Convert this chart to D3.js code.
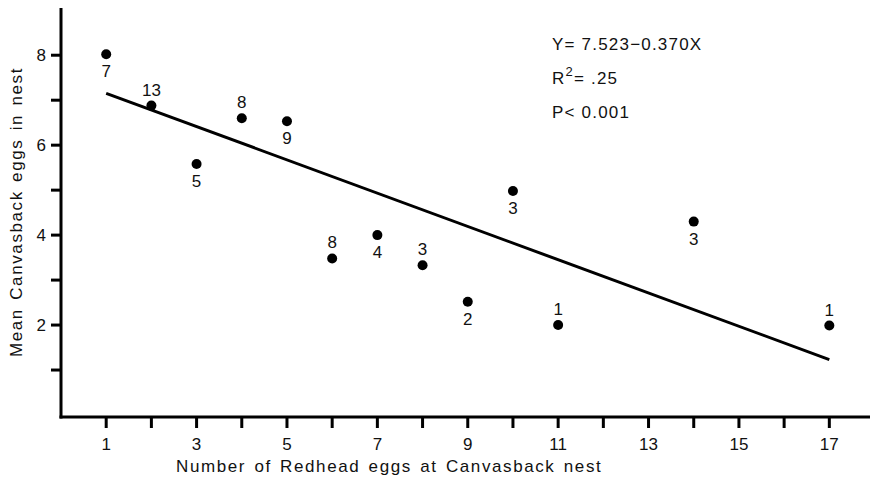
<!DOCTYPE html>
<html>
<head>
<meta charset="utf-8">
<script src="https://cdn.jsdelivr.net/npm/d3@7"></script>
<style>
  body { margin: 0; background: #fff; }
  text { font-family: "Liberation Sans", Arial, Helvetica, sans-serif; fill: #111; }
</style>
</head>
<body>
<svg id="chart"></svg>
<script>
// Data
const redheadEggs = [1, 2, 3, 4, 5, 6, 7, 8, 9, 10, 11, 14, 17];
const meanCanvasback = [8.02, 6.88, 5.58, 6.6, 6.53, 3.48, 4.0, 3.33, 2.52, 4.98, 2.0, 4.3, 1.99];
const nestCounts = [7, 13, 5, 8, 9, 8, 4, 3, 2, 3, 1, 3, 1];
const labelSide = ['below', 'above', 'below', 'above', 'below', 'above', 'below', 'above', 'below', 'below', 'above', 'below', 'above'];
const xTicks = [1, 2, 3, 4, 5, 6, 7, 8, 9, 10, 11, 12, 13, 14, 15, 16, 17];
const xTickLabels = [1, 3, 5, 7, 9, 11, 13, 15, 17];
const yTicks = [1, 2, 3, 4, 5, 6, 7, 8];
const yTickLabels = [2, 4, 6, 8];
const intercept = 7.523;
const slope = -0.370;
const statLines = ['Y= 7.523\u22120.370X', 'R2= .25', 'P< 0.001'];

const width = 873;
const height = 479;
const margin = { top: 8, right: 3, bottom: 64, left: 61 };

const svg = d3.select('#chart')
  .attr('width', width)
  .attr('height', height);

const x = d3.scaleLinear()
  .domain([0, 17.9])
  .range([margin.left, width - margin.right]);

const y = d3.scaleLinear()
  .domain([0, 9.05])
  .range([height - margin.bottom, margin.top]);

const x0 = y(0) + 2; // axis line sits just under zero

// x axis
const xAxis = svg.append('g').attr('transform', `translate(0, ${x0})`);
xAxis.append('line')
  .attr('x1', margin.left - 1.5).attr('x2', x.range()[1])
  .attr('stroke', '#000').attr('stroke-width', 3);
xAxis.selectAll('.xt')
  .data(xTicks)
  .join('line')
  .attr('x1', (d) => x(d)).attr('x2', (d) => x(d))
  .attr('y1', 0).attr('y2', 11)
  .attr('stroke', '#000').attr('stroke-width', 3);
xAxis.selectAll('.xl')
  .data(xTickLabels)
  .join('text')
  .attr('x', (d) => x(d))
  .attr('y', 33)
  .attr('text-anchor', 'middle')
  .style('font-size', '17px')
  .text((d) => d);

// y axis
const yAxis = svg.append('g').attr('transform', `translate(${margin.left}, 0)`);
yAxis.append('line')
  .attr('y1', margin.top).attr('y2', x0 + 1.5)
  .attr('stroke', '#000').attr('stroke-width', 3);
yAxis.selectAll('.yt')
  .data(yTicks)
  .join('line')
  .attr('x1', -10).attr('x2', 0)
  .attr('y1', (d) => y(d)).attr('y2', (d) => y(d))
  .attr('stroke', '#000').attr('stroke-width', 3);
yAxis.selectAll('.yl')
  .data(yTickLabels)
  .join('text')
  .attr('x', -15)
  .attr('y', (d) => y(d))
  .attr('dy', '0.36em')
  .attr('text-anchor', 'end')
  .style('font-size', '17px')
  .text((d) => d);

// axis titles
svg.append('text')
  .attr('x', 176)
  .attr('y', 472)
  .style('font-size', '17px')
  .style('letter-spacing', '1.6px')
  .style('word-spacing', '2px')
  .text('Number of Redhead eggs at Canvasback nest');

svg.append('text')
  .attr('transform', `translate(22, 357) rotate(-90)`)
  .style('font-size', '17px')
  .style('letter-spacing', '1.6px')
  .style('word-spacing', '2px')
  .text('Mean Canvasback eggs in nest');

// regression line
const fit = (v) => intercept + slope * v;
svg.append('line')
  .attr('x1', x(1)).attr('y1', y(fit(1)))
  .attr('x2', x(17)).attr('y2', y(fit(17)))
  .attr('stroke', '#000')
  .attr('stroke-width', 3);

// points
const points = redheadEggs.map((d, i) => ({ x: d, y: meanCanvasback[i], n: nestCounts[i], side: labelSide[i] }));

svg.selectAll('circle')
  .data(points)
  .join('circle')
  .attr('cx', (d) => x(d.x))
  .attr('cy', (d) => y(d.y))
  .attr('r', 5)
  .attr('fill', '#000');

svg.selectAll('.nl')
  .data(points)
  .join('text')
  .attr('x', (d) => x(d.x))
  .attr('y', (d) => y(d.y) + (d.side === 'above' ? -10 : 23))
  .attr('text-anchor', 'middle')
  .style('font-size', '17px')
  .text((d) => d.n);

// regression stats
const stats = svg.append('g').attr('transform', 'translate(552, 0)')
  .style('font-size', '17px')
  .style('letter-spacing', '1.2px');
stats.append('text').attr('y', 50).text(statLines[0]);
const r2 = stats.append('text').attr('y', 84);
r2.append('tspan').text('R');
r2.append('tspan').attr('dy', -8).style('font-size', '13px').text('2');
r2.append('tspan').attr('dy', 8).text(statLines[1].slice(2));
stats.append('text').attr('y', 118).text(statLines[2]);
</script>
</body>
</html>
